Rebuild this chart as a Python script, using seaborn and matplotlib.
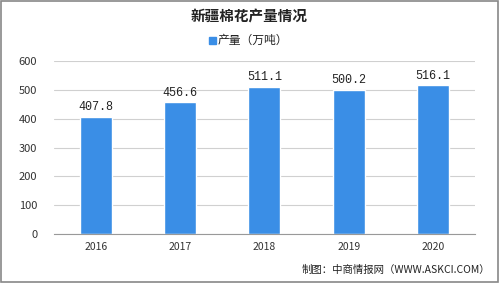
import matplotlib
matplotlib.use("Agg")
import matplotlib.pyplot as plt
import seaborn as sns
import pandas as pd
import numpy as np
from matplotlib.patches import Rectangle

years = ["2016", "2017", "2018", "2019", "2020"]
values = [407.8, 456.6, 511.1, 500.2, 516.1]
title = "新疆棉花产量情况"
legend_label = "产量（万吨）"
source = "制图：中商情报网（WWW.ASKCI.COM）"

sns.set_theme(style="white")
plt.rcParams['font.family'] = ['Noto Sans CJK SC', 'DejaVu Sans']

df = pd.DataFrame({"year": years, "value": values})
color = "#3a8ee6"

fig = plt.figure(figsize=(4.99, 2.83), dpi=100)
ax = fig.add_axes([0.108, 0.173, 0.844, 0.611])
sns.barplot(data=df, x="year", y="value", color=color, width=0.38, ax=ax,
            saturation=1)

ax.set_ylim(0, 600)
ax.set_yticks(range(0, 601, 100))
ax.yaxis.grid(True, color="#d0d0d0", linewidth=0.8)
ax.set_axisbelow(True)
ax.set_xlim(-0.5, 4.5)
ax.set_xlabel("")
ax.set_ylabel("")
for s in ["top", "right", "left"]:
    ax.spines[s].set_visible(False)
ax.spines["bottom"].set_color("#999999")
ax.spines["bottom"].set_linewidth(0.8)
ax.tick_params(axis="y", length=0, labelsize=8, colors="#333333", pad=12)
ax.tick_params(axis="x", length=0, labelsize=7.5, colors="#333333", pad=6)
ax.set_xticks(np.arange(-0.5, 5.0, 1.0), minor=True)
ax.tick_params(axis="x", which="minor", length=3, color="#999999", width=0.8)

for i, v in enumerate(values):
    ax.text(i, v + 12, f"{v:.1f}", ha="center", va="bottom", fontsize=8.5,
            color="#222222", family=["Liberation Mono", "DejaVu Sans Mono"])

fig.text(0.5, 0.94, title, ha="center", va="center", fontsize=10.5,
         fontweight="bold", color="#222222")
# legend
fig.patches.append(Rectangle((0.418, 0.845), 0.014, 0.024, transform=fig.transFigure,
                             color=color, figure=fig))
fig.text(0.437, 0.857, legend_label, ha="left", va="center", fontsize=8.5,
         color="#222222")
fig.text(0.982, 0.045, source, ha="right", va="center", fontsize=7.5,
         color="#222222")

# frame border
fig.patches.append(Rectangle((0.002, 0.003), 0.996, 0.994, transform=fig.transFigure,
                             fill=False, edgecolor="#888888", linewidth=1.2, figure=fig))

fig.savefig("out.png", dpi=100)
